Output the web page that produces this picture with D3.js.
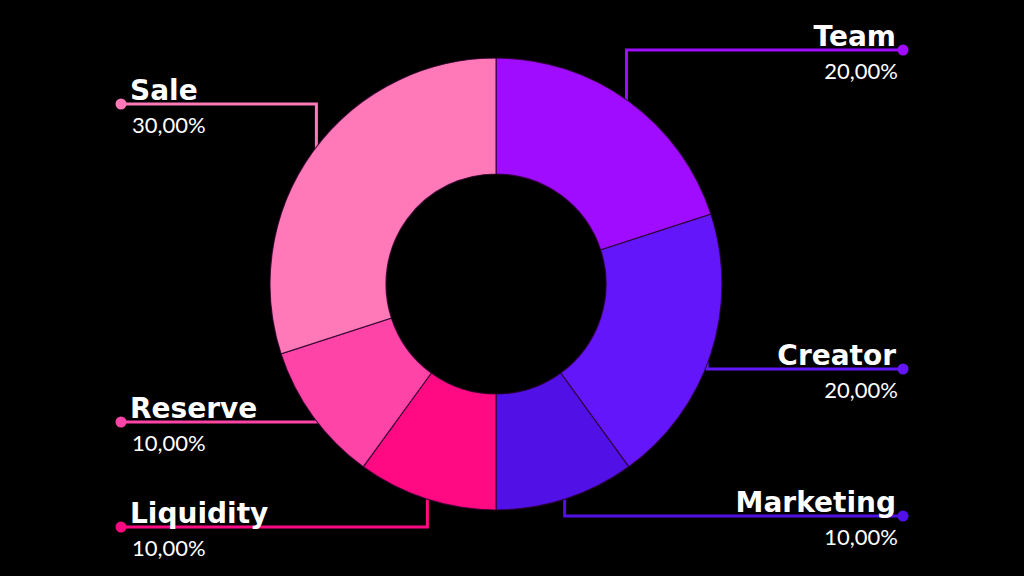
<!DOCTYPE html>
<html><head><meta charset="utf-8">
<script src="https://cdn.jsdelivr.net/npm/d3@7"></script>
<style>html,body{margin:0;padding:0;background:#000;}svg{display:block;}</style>
</head><body>
<svg id="c" width="1024" height="576"></svg>
<script>
const categories = ["Team","Creator","Marketing","Liquidity","Reserve","Sale"];
const values = [20,20,10,10,10,30];
const percentLabels = ["20,00%","20,00%","10,00%","10,00%","10,00%","30,00%"];
const colors = ["#a00cff","#6416fb","#5010e6","#ff0a82","#ff44a8","#ff78b8"];
const labelY = [50,369,516,527,422,104];

const W=1024,H=576,cx=496,cy=284,rOut=226,rIn=110;
const svg=d3.select("#c");
svg.append("rect").attr("width",W).attr("height",H).attr("fill","#000");
const g=svg.append("g").attr("transform",`translate(${cx},${cy})`);
const pie=d3.pie().sort(null).value(d=>d)(values);
const arc=d3.arc().innerRadius(rIn).outerRadius(rOut);
const color=d3.scaleOrdinal().domain(categories).range(colors);

// leader lines
pie.forEach((p,i)=>{
  const a=(p.startAngle+p.endAngle)/2;
  const x0=Math.sin(a)*(rOut-4), y0=-Math.cos(a)*(rOut-4);
  const right=a<Math.PI;
  const ly=labelY[i]-cy;
  const xe=right?903-cx:121-cx;
  const col=color(categories[i]);
  g.append("path").attr("d",`M${x0},${y0}L${x0},${ly}L${xe},${ly}`)
   .attr("fill","none").attr("stroke",col).attr("stroke-width",3);
  g.append("circle").attr("cx",xe).attr("cy",ly).attr("r",5.5).attr("fill",col);
});

g.selectAll("path.slice").data(pie).enter().append("path").attr("class","slice")
 .attr("d",arc).attr("fill",(d,i)=>color(categories[i]))
 .attr("stroke","rgba(40,0,40,0.8)").attr("stroke-width",1.2);

// labels
pie.forEach((p,i)=>{
  const a=(p.startAngle+p.endAngle)/2;
  const right=a<Math.PI;
  const ly=labelY[i];
  const x=right?896:130;
  const anchor=right?"end":"start";
  svg.append("text").attr("x",x).attr("y",ly-4).attr("text-anchor",anchor)
   .attr("font-family","'DejaVu Sans', sans-serif").attr("font-weight","bold")
   .attr("font-size",28).attr("fill","#fff").text(categories[i]);
  svg.append("text").attr("x",right?898:132).attr("y",ly+29).attr("text-anchor",anchor)
   .attr("font-family","Lato, 'Open Sans', sans-serif")
   .attr("font-size",22).attr("fill","#fff").text(percentLabels[i]);
});
</script>
</body></html>
